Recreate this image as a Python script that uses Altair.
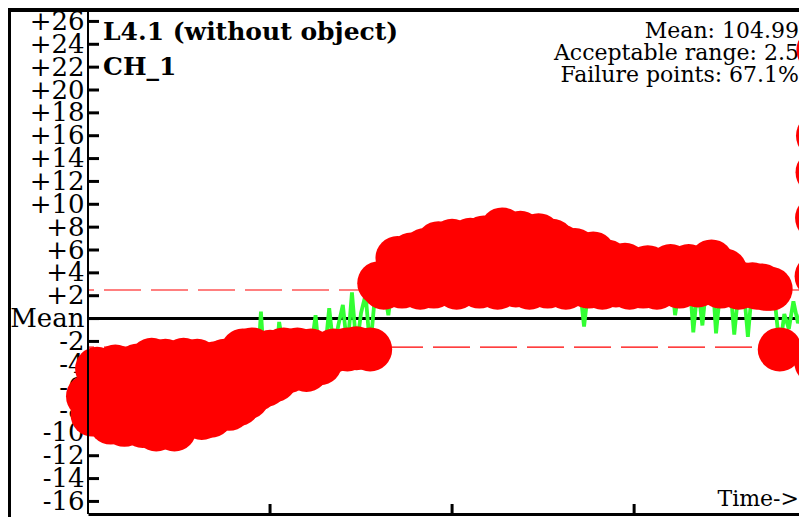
import altair as alt
import pandas as pd

# ---------------- data ----------------
# deviation from the mean, one sample per time step (x = sample index)
deviation = [
    -6.8, -8.4, -4.4, -7.5, -5.6, -9.1, -4.2, -7.0, -9.3, -5.5,
    -8.2, -4.1, -9.4, -6.3, -3.6, -9.7, -7.1, -3.7, -8.8, -9.7,
    -5.0, -3.6, -8.0, -6.2, -3.7, -8.7, -5.4, -8.5, -3.9, -6.6,
    -3.7, -7.9, -3.9, -7.5, -2.8, -6.9, -2.7, -6.2, 0.6, -5.8,
    -2.9, -5.4, -0.3, -2.7, -4.6, -4.3, -2.7, -3.6, -4.5, -2.8,
    0.3, -3.9, -3.2, 0.9, -2.8, -0.6, 1.2, -2.7, 2.3, -2.6,
    0.5, 2.1, -2.7, 1.8, 3.1, 2.7, 0.3, 3.4, 5.3, 2.8,
    4.1, 5.6, 3.0, 2.7, 6.0, 4.2, 2.8, 6.6, 3.5, 5.0,
    6.8, 2.7, 4.4, 3.1, 6.9, 5.2, 2.8, 7.1, 3.6, 4.9,
    2.7, 7.8, 5.5, 3.2, 2.9, 7.5, 4.0, 2.7, 5.8, 7.3,
    3.3, 2.8, 6.8, 4.5, 6.3, 2.7, 3.9, 6.0, 3.0, -0.7,
    2.8, 5.7, 3.4, 2.7, 5.0, 3.8, 2.9, 4.1, 4.7, 2.7,
    3.6, 3.0, 2.8, 4.5, 3.2, 2.7, 3.9, 3.0, 4.6, 0.3,
    2.8, 3.7, 4.6, -1.2, 2.9, -0.6, 3.5, 5.0, -1.3, 2.8,
    4.2, 3.4, -1.4, 2.7, 3.0, -1.6, 3.0, 2.7, 2.9, 2.6,
    2.6, 1.2, -2.7, 0.4, -0.9, 1.5, -0.4, 0.9,
]
# steep burst at the right edge of the view
burst_times = [160.0, 160.1, 160.2, 160.3, 160.4, 160.5, 160.6]
burst_values = [-3.8, 3.7, 8.8, 12.8, 16.0, 23.5, 27.9]

y_tick_values = [-16, -14, -12, -10, -8, -6, -4, -2, 0, 2, 4, 6, 8, 10,
                 12, 14, 16, 18, 20, 22, 24, 26]
x_tick_times = [40, 80, 120]
limit_levels = [-2.5, 2.5]
mean_level = [0.0]
title_lines = ["L4.1 (without object)", "CH_1"]
stats_lines = ["Mean: 104.99", "Acceptable range: 2.5", "Failure points: 67.1%"]
time_label = "Time->"
acceptable = 2.5

# ---------------- chart ----------------
W, H = 711, 504
PX_PER_SAMPLE = 4.551
FONT = "DejaVu Serif"

series = pd.DataFrame({
    "time": list(range(len(deviation))) + burst_times,
    "value": deviation + burst_values,
})
ticks_df = pd.DataFrame({"tick": y_tick_values})
xticks_df = pd.DataFrame({"t": x_tick_times})
limits_df = pd.DataFrame({"level": limit_levels})
mean_df = pd.DataFrame({"level": mean_level})

x_scale = alt.Scale(domain=[0, W / PX_PER_SAMPLE], nice=False, zero=False)
y_scale = alt.Scale(domain=[-17.1, 27], nice=False, zero=False)
x_axis = alt.Axis(labels=False, ticks=False, grid=False, domain=True,
                  domainColor="black", domainWidth=3, title=None)
y_axis = alt.Axis(
    values=y_tick_values,
    labelExpr="datum.value == 0 ? 'Mean' : (datum.value > 0 ? '+' + datum.value : '-' + abs(datum.value))",
    ticks=False, domain=False, grid=False,
    labelFont=FONT, labelFontSize=26, labelColor="black",
    labelPadding=4, labelOverlap=False, labelFlush=False, title=None,
)


def X(field):
    return alt.X(f"{field}:Q", scale=x_scale, axis=x_axis, title=None)


def Y(field):
    return alt.Y(f"{field}:Q", scale=y_scale, axis=y_axis, title=None)


ytick_rules = alt.Chart(ticks_df).mark_rule(color="black", strokeWidth=3).encode(
    y=Y("tick"), x=alt.value(0), x2=alt.value(11))
xtick_rules = alt.Chart(xticks_df).mark_rule(color="black", strokeWidth=3).encode(
    x=X("t"), y=alt.value(H - 10), y2=alt.value(H))
limit_rules = alt.Chart(limits_df).mark_rule(
    color="#ff0000", strokeWidth=1.2, strokeDash=[37, 10]).encode(y=Y("level"))
mean_rule = alt.Chart(mean_df).mark_rule(color="black", strokeWidth=3).encode(y=Y("level"))
line = alt.Chart(series).mark_line(color="#33ff33", strokeWidth=3.8).encode(
    x=X("time"), y=Y("value"))

texts = []
for k, t in enumerate(title_lines):
    texts.append(alt.Chart(mean_df).mark_text(
        font=FONT, fontSize=25, fontWeight="bold", align="left",
        baseline="alphabetic", color="black").encode(
        x=alt.value(15), y=alt.value(30 + k * 34.5), text=alt.value(t)))
for k, t in enumerate(stats_lines):
    texts.append(alt.Chart(mean_df).mark_text(
        font=FONT, fontSize=22, align="right",
        baseline="alphabetic", color="black").encode(
        x=alt.value(W), y=alt.value(28 + k * 22.2), text=alt.value(t)))
texts.append(alt.Chart(mean_df).mark_text(
    font=FONT, fontSize=22, align="right", baseline="alphabetic", color="black").encode(
    x=alt.value(W), y=alt.value(496), text=alt.value(time_label)))

circles = alt.Chart(series).transform_filter(
    f"abs(datum.value) > {acceptable}").mark_circle(
    size=1936, color="#ff0000", opacity=1).encode(x=X("time"), y=Y("value"))

yaxis_line = alt.Chart(mean_df).mark_rule(color="black", strokeWidth=2).encode(
    x=alt.value(0), y=alt.value(0), y2=alt.value(H))
frame_top = alt.Chart(mean_df).mark_rule(color="black", strokeWidth=4).encode(
    x=alt.value(-80), x2=alt.value(W), y=alt.value(0))
frame_left = alt.Chart(mean_df).mark_rule(color="black", strokeWidth=3).encode(
    x=alt.value(-78.5), y=alt.value(-2), y2=alt.value(H + 5))

chart = alt.layer(
    ytick_rules, xtick_rules, limit_rules, mean_rule, line, *texts,
    circles, yaxis_line, frame_top, frame_left,
).properties(
    width=W, height=H,
    autosize=alt.AutoSizeParams(type="none"),
    padding={"left": 80, "top": 2, "right": 0, "bottom": 3},
).configure_view(strokeWidth=0)

chart.save("out.html", embed_options={"renderer": "svg", "actions": False})
